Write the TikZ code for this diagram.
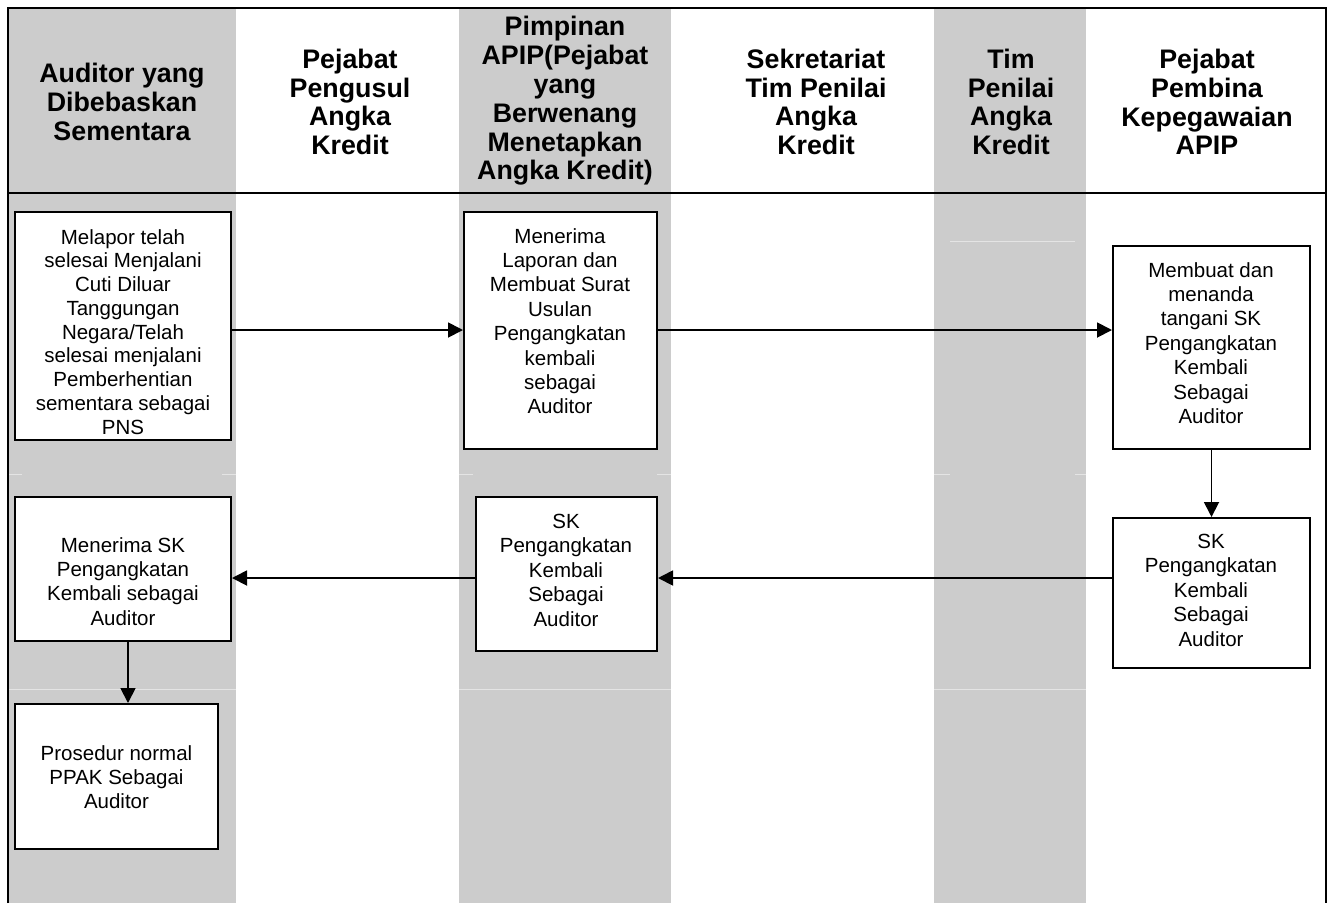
\documentclass[tikz,border=0pt]{standalone}
\usepackage{fontspec}
\setmainfont{Liberation Sans}
\usetikzlibrary{arrows.meta}
\definecolor{lanegray}{HTML}{CCCCCC}
\definecolor{faint}{HTML}{E4E4E4}
\begin{document}
\begin{tikzpicture}[x=1pt,y=-1pt,
  hdr/.style={font=\bfseries\fontsize{26.8}{28.8}\selectfont, align=center, inner sep=0},
  boxshape/.style={draw, line width=2pt, fill=white, inner sep=0},
  boxtext/.style={font=\fontsize{20.5}{24.4}\selectfont, align=center, inner sep=0, anchor=north},
  arr/.style={line width=1.8pt, -{Triangle[length=15pt,width=15pt]}},
  faintline/.style={draw=faint, line width=1pt}]
\useasboundingbox (0,0) rectangle (1329,903);
% lanes
\fill[lanegray] (9,8) rectangle (236,903);
\fill[lanegray] (459,8) rectangle (671,903);
\fill[lanegray] (934,8) rectangle (1086,903);
% faint row lines
\draw[faintline] (950,241) -- (1075,241);
\draw[faintline] (9,474) -- (22,474);
\draw[faintline] (222,474) -- (236,474);
\draw[faintline] (459,474) -- (473,474);
\draw[faintline] (657,474) -- (671,474);
\draw[faintline] (934,474) -- (950,474);
\draw[faintline] (1075,474) -- (1086,474);
\draw[faintline] (9,689) -- (236,689);
\draw[faintline] (459,689) -- (671,689);
\draw[faintline] (934,689) -- (1086,689);
% frame
\draw[line width=2.4pt] (8,903) -- (8,8) -- (1326,8) -- (1326,903);
\draw[line width=2.4pt] (8,193) -- (1326,193);
% headers
\node[hdr] (h1) at (122,102) {Auditor yang\\Dibebaskan\\Sementara};
\node[hdr] (h2) at (350,102) {Pejabat\\Pengusul\\Angka\\Kredit};
\node[hdr] (h3) at (565,101) {Pimpinan\\APIP(Pejabat\\yang\\Berwenang\\Menetapkan\\Angka Kredit)};
\node[hdr] (h4) at (816,102) {Sekretariat\\Tim Penilai\\Angka\\Kredit};
\node[hdr] (h5) at (1011,102) {Tim\\Penilai\\Angka\\Kredit};
\node[hdr] (h6) at (1207,102) {Pejabat\\Pembina\\Kepegawaian\\APIP};
% boxes
\node[boxshape, minimum width=216, minimum height=228] (b1) at (123,326) {};
\node[boxshape, minimum width=193, minimum height=237] (b2) at (560.5,330.5) {};
\node[boxshape, minimum width=197, minimum height=203] (b3) at (1211.5,347.5) {};
\node[boxshape, minimum width=197, minimum height=150] (b4) at (1211.5,593) {};
\node[boxshape, minimum width=181, minimum height=154] (b5) at (566.5,574) {};
\node[boxshape, minimum width=216, minimum height=144] (b6) at (123,569) {};
\node[boxshape, minimum width=203, minimum height=145] (b7) at (116.5,776.5) {};
% box texts
\node[boxtext, font=\fontsize{20.5}{23.75}\selectfont] (t1) at (123,229) {Melapor telah\\selesai Menjalani\\Cuti Diluar\\Tanggungan\\Negara/Telah\\selesai menjalani\\Pemberhentian\\sementara sebagai\\PNS};
\node[boxtext] (t2) at (560,228) {Menerima\\Laporan dan\\Membuat Surat\\Usulan\\Pengangkatan\\kembali\\sebagai\\Auditor};
\node[boxtext] (t3) at (1211,262) {Membuat dan\\menanda\\tangani SK\\Pengangkatan\\Kembali\\Sebagai\\Auditor};
\node[boxtext] (t4) at (1211,534) {SK\\Pengangkatan\\Kembali\\Sebagai\\Auditor};
\node[boxtext] (t5) at (566,514) {SK\\Pengangkatan\\Kembali\\Sebagai\\Auditor};
\node[boxtext] (t6) at (123,537) {Menerima SK\\Pengangkatan\\Kembali sebagai\\Auditor};
\node[boxtext] (t7) at (116.5,745) {Prosedur normal\\PPAK Sebagai\\Auditor};
% connectors
\coordinate (ay1) at (0,330);
\coordinate (ay2) at (0,578);
\coordinate (ax) at (128,0);
\draw[arr] (b1.east |- ay1) -- (b2.west |- ay1);
\draw[arr] (b2.east |- ay1) -- (b3.west |- ay1);
\draw[arr] (b3.south) -- (b4.north);
\draw[arr] (b4.west |- ay2) -- (b5.east |- ay2);
\draw[arr] (b5.west |- ay2) -- (b6.east |- ay2);
\draw[arr] (b6.south -| ax) -- (b7.north -| ax);
\end{tikzpicture}
\end{document}
